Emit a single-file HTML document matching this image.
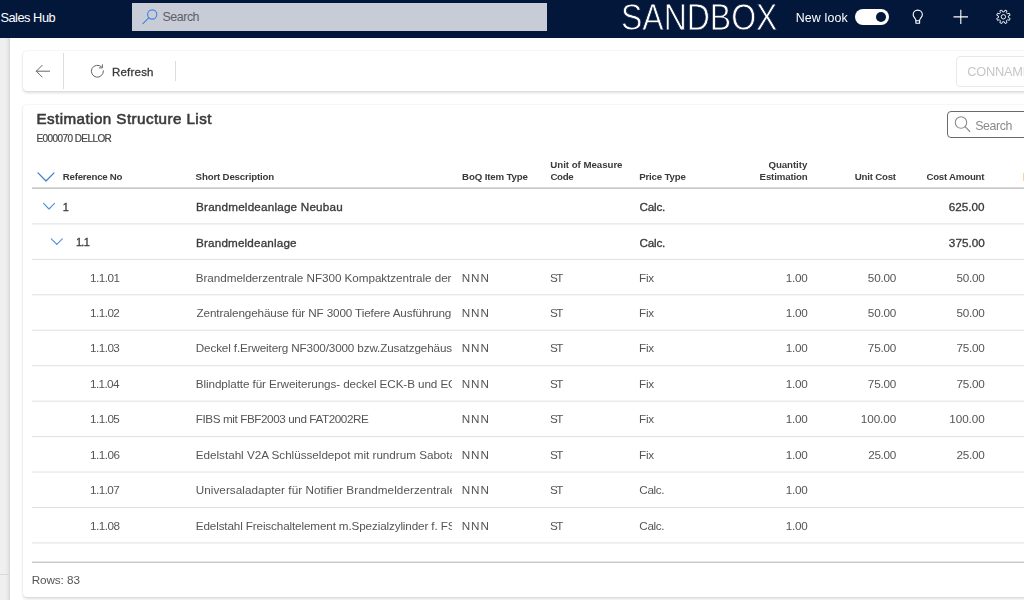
<!DOCTYPE html>
<html lang="en">
<head>
<meta charset="utf-8">
<title>Estimation Structure List</title>
<style>
html,body{margin:0;padding:0;}
body{width:1024px;height:600px;overflow:hidden;position:relative;background:#ffffff;font-family:"Liberation Sans",sans-serif;}
.abs{position:absolute;}
.t{position:absolute;white-space:nowrap;display:block;}
#page{position:absolute;left:0;top:0;width:1024px;height:600px;opacity:0.999;}
#hdr{left:-10px;top:-10px;width:1044px;height:48px;background:#03173b;}
#hsearch{left:132px;top:3px;width:415px;height:28px;background:#c8ccd6;}
#strip{left:-10px;top:38px;width:20px;height:572px;background:linear-gradient(90deg,#f0f0f0 0,#f0f0f0 10px,#eeeeee 16px,#e2e2e2 18.5px,#d6d6d6 20px);}
#stripline{left:-10px;top:574px;width:19px;height:1px;background:#d8d8d8;}
.card{background:#fff;border-radius:4px;box-shadow:0 0 1.6px rgba(0,0,0,.12),0 1.6px 3.2px rgba(0,0,0,.14);}
#tb{left:23px;top:51px;width:1020px;height:40px;}
#lc{left:23px;top:104.5px;width:1020px;height:492.5px;}
.vd{width:1px;background:#dcdcdc;}
#conn{left:956px;top:56px;width:90px;height:31px;border:1px solid #e9e9e9;border-radius:4px;box-sizing:border-box;background:#fff;}
#csearch{left:947px;top:111px;width:90px;height:27px;border:1px solid #6a6a6a;border-radius:4px;box-sizing:border-box;background:#fff;}
#tog{left:855px;top:9px;width:34px;height:16px;border-radius:8px;background:#fff;}
#knob{left:875.7px;top:12px;width:10.2px;height:10.2px;border-radius:50%;background:#03173b;}
svg{position:absolute;overflow:visible;}
</style>
</head>
<body>
<div id="page">
<div class="abs" id="hdr"></div>
<div class="abs" id="hsearch"></div>
<div class="abs" id="strip"></div>
<div class="abs" id="stripline"></div>
<div class="abs" id="tog"></div><div class="abs" id="knob"></div>

<div class="abs card" id="tb"></div>
<div class="abs vd" style="left:63px;top:53px;height:36px;"></div>
<div class="abs vd" style="left:175px;top:61px;height:20px;"></div>
<div class="abs" id="conn"></div>

<div class="abs card" id="lc"></div>
<div class="abs" id="csearch"></div>

<!-- grid lines -->
<div class="abs" style="left:1023px;top:173px;width:1px;height:8px;background:#f5d4a8;"></div>

<!-- icons -->
<svg id="i-hs" style="left:0;top:0" width="1024" height="600" viewBox="0 0 1024 600" fill="none">
  <!-- grid lines -->
  <rect x="32" y="187.6" width="992" height="1" fill="#a4a4a4"/>
  <rect x="32" y="223.40" width="992" height="1" fill="#e0e0e0"/>
  <rect x="32" y="258.85" width="992" height="1" fill="#e0e0e0"/>
  <rect x="32" y="294.30" width="992" height="1" fill="#e0e0e0"/>
  <rect x="32" y="329.75" width="992" height="1" fill="#e0e0e0"/>
  <rect x="32" y="365.20" width="992" height="1" fill="#e0e0e0"/>
  <rect x="32" y="400.65" width="992" height="1" fill="#e0e0e0"/>
  <rect x="32" y="436.10" width="992" height="1" fill="#e0e0e0"/>
  <rect x="32" y="471.55" width="992" height="1" fill="#e0e0e0"/>
  <rect x="32" y="507.00" width="992" height="1" fill="#e0e0e0"/>
  <rect x="32" y="542.45" width="992" height="1" fill="#e0e0e0"/>
  <rect x="32" y="561.7" width="992" height="1" fill="#b0b0b0"/>
  <!-- header search magnifier -->
  <g stroke="#3f82de" stroke-width="1.1" stroke-linecap="round">
    <circle cx="152.2" cy="14.5" r="4.6"/>
    <path d="M148.8 17.9 L142.9 23.6"/>
  </g>
  <!-- lightbulb -->
  <g stroke="#fff" stroke-width="1.1" stroke-linejoin="round" stroke-linecap="round">
    <path d="M915.9 23.2 h3.7 v-3 c0-1.5 2.75-3 2.75-5.45 a4.6 4.6 0 0 0 -9.2 0 c0 2.45 2.75 3.95 2.75 5.45 z"/>
    <path d="M915.9 20.7 h3.7"/>
  </g>
  <!-- plus -->
  <g stroke="#fff" stroke-width="1.1">
    <path d="M953.5 16.9 H968 M960.8 9.7 V24"/>
  </g>
  <!-- gear -->
  <g stroke="#f4f6fa" stroke-width="0.95" stroke-linejoin="round" id="gear">
    <circle cx="1003.4" cy="16.8" r="2.2"/>
    <path d="M1004.18 11.86 L1005.01 10.09 L1007.01 10.92 L1006.34 12.75 L1007.45 13.86 L1009.28 13.19 L1010.11 15.19 L1008.34 16.02 L1008.34 17.58 L1010.11 18.41 L1009.28 20.41 L1007.45 19.74 L1006.34 20.85 L1007.01 22.68 L1005.01 23.51 L1004.18 21.74 L1002.62 21.74 L1001.79 23.51 L999.79 22.68 L1000.46 20.85 L999.35 19.74 L997.52 20.41 L996.69 18.41 L998.46 17.58 L998.46 16.02 L996.69 15.19 L997.52 13.19 L999.35 13.86 L1000.46 12.75 L999.79 10.92 L1001.79 10.09 L1002.62 11.86 Z"/>
  </g>
  <!-- back arrow -->
  <g stroke="#666666" stroke-width="1" stroke-linecap="round" stroke-linejoin="round">
    <path d="M36.3 71.2 H49.6 M42.1 65.4 L36.3 71.2 L42.1 77"/>
  </g>
  <!-- refresh -->
  <g stroke="#666666" stroke-width="1" stroke-linecap="round" stroke-linejoin="round">
    <path d="M103.39 70.78 A6.00 6.00 0 1 1 101.41 66.74"/>
    <path d="M102.4 64.7 V67.9 H99.3" />
  </g>
  <!-- card search magnifier -->
  <g stroke="#8a8a8a" stroke-width="1.1" stroke-linecap="round">
    <circle cx="961" cy="122.5" r="5.7"/>
    <path d="M965.1 126.7 L969.8 131.5"/>
  </g>
  <!-- chevrons -->
  <g stroke="#3f80d0" stroke-width="1.3" stroke-linecap="round" stroke-linejoin="round">
    <path d="M38 172.9 L46 181 L54 172.9"/>
  </g>
  <g stroke="#4f8fdc" stroke-width="1.1" stroke-linecap="round" stroke-linejoin="round">
    <path d="M43.5 203.4 L49 209 L54.5 203.4"/>
    <path d="M51.3 238.8 L56.8 244.4 L62.3 238.8"/>
  </g>
</svg>

<span class="t " id="t0" style="top:8.96px;font-size:12.8px;line-height:18px;font-weight:400;color:#ffffff;letter-spacing:-0.475px;left:0.42px;">Sales Hub</span>
<span class="t " id="t1" style="top:8.60px;font-size:12.4px;line-height:17px;font-weight:400;color:#5c6068;letter-spacing:-0.460px;left:162.55px;">Search</span>
<span class="t sandbox" id="t2" style="top:-7.98px;font-size:36.6px;line-height:51px;font-weight:400;color:#ffffff;letter-spacing:0.000px;left:620.82px;transform:scaleX(0.8741);transform-origin:0 0;-webkit-text-stroke:0.8px #03173b;">SANDBOX</span>
<span class="t " id="t3" style="top:10.30px;font-size:12.4px;line-height:17px;font-weight:400;color:#ffffff;letter-spacing:0.163px;left:795.68px;">New look</span>
<span class="t " id="t4" style="top:63.52px;font-size:11.5px;line-height:16px;font-weight:400;color:#3a3a3a;letter-spacing:0.216px;-webkit-text-stroke:0.31px #3a3a3a;left:111.95px;">Refresh</span>
<span class="t " id="t5" style="top:62.96px;font-size:12.8px;line-height:18px;font-weight:400;color:#c6c6c6;letter-spacing:-0.249px;left:967.28px;">CONNAME</span>
<span class="t " id="t6" style="top:108.43px;font-size:15.2px;line-height:21px;font-weight:400;color:#3a3a3a;letter-spacing:0.433px;-webkit-text-stroke:0.60px #3a3a3a;left:36.44px;">Estimation Structure List</span>
<span class="t " id="t7" style="top:131.63px;font-size:10.0px;line-height:14px;font-weight:400;color:#444444;letter-spacing:-0.577px;-webkit-text-stroke:0.20px #444444;left:36.50px;">E000070 DELLOR</span>
<span class="t " id="t8" style="top:118.10px;font-size:12.4px;line-height:17px;font-weight:400;color:#8a8a8a;letter-spacing:-0.400px;left:975.14px;">Search</span>
<span class="t " id="t9" style="top:170.44px;font-size:9.7px;line-height:14px;font-weight:700;color:#3a3a3a;letter-spacing:-0.255px;left:62.87px;">Reference No</span>
<span class="t " id="t10" style="top:170.44px;font-size:9.7px;line-height:14px;font-weight:700;color:#3a3a3a;letter-spacing:-0.171px;left:195.62px;">Short Description</span>
<span class="t " id="t11" style="top:170.44px;font-size:9.7px;line-height:14px;font-weight:700;color:#3a3a3a;letter-spacing:-0.152px;left:462.11px;">BoQ Item Type</span>
<span class="t " id="t12" style="top:158.34px;font-size:9.7px;line-height:14px;font-weight:700;color:#3a3a3a;letter-spacing:-0.037px;left:550.36px;">Unit of Measure</span>
<span class="t " id="t13" style="top:170.44px;font-size:9.7px;line-height:14px;font-weight:700;color:#3a3a3a;letter-spacing:-0.330px;left:550.39px;">Code</span>
<span class="t " id="t14" style="top:170.44px;font-size:9.7px;line-height:14px;font-weight:700;color:#3a3a3a;letter-spacing:-0.198px;left:639.29px;">Price Type</span>
<span class="t " id="t15" style="top:158.34px;font-size:9.7px;line-height:14px;font-weight:700;color:#3a3a3a;letter-spacing:-0.063px;right:216.75px;">Quantity</span>
<span class="t " id="t16" style="top:170.44px;font-size:9.7px;line-height:14px;font-weight:700;color:#3a3a3a;letter-spacing:-0.163px;right:216.50px;">Estimation</span>
<span class="t " id="t17" style="top:170.44px;font-size:9.7px;line-height:14px;font-weight:700;color:#3a3a3a;letter-spacing:-0.207px;right:128.13px;">Unit Cost</span>
<span class="t " id="t18" style="top:170.44px;font-size:9.7px;line-height:14px;font-weight:700;color:#3a3a3a;letter-spacing:-0.238px;right:39.74px;">Cost Amount</span>
<span class="t " id="t19" style="top:199.79px;font-size:11.0px;line-height:15px;font-weight:400;color:#3a3a3a;letter-spacing:0.000px;-webkit-text-stroke:0.30px #3a3a3a;left:62.66px;">1</span>
<span class="t " id="t20" style="top:199.05px;font-size:11.7px;line-height:16px;font-weight:400;color:#3a3a3a;letter-spacing:0.196px;-webkit-text-stroke:0.32px #3a3a3a;left:196.05px;">Brandmeldeanlage Neubau</span>
<span class="t " id="t21" style="top:199.05px;font-size:11.7px;line-height:16px;font-weight:400;color:#3a3a3a;letter-spacing:-0.225px;-webkit-text-stroke:0.32px #3a3a3a;left:639.54px;">Calc.</span>
<span class="t " id="t22" style="top:199.05px;font-size:11.7px;line-height:16px;font-weight:400;color:#3a3a3a;letter-spacing:-0.011px;-webkit-text-stroke:0.32px #3a3a3a;right:39.51px;">625.00</span>
<span class="t " id="t23" style="top:235.24px;font-size:11.0px;line-height:15px;font-weight:400;color:#3a3a3a;letter-spacing:-0.750px;-webkit-text-stroke:0.30px #3a3a3a;left:75.98px;">1.1</span>
<span class="t " id="t24" style="top:234.50px;font-size:11.7px;line-height:16px;font-weight:400;color:#3a3a3a;letter-spacing:0.163px;-webkit-text-stroke:0.32px #3a3a3a;left:196.05px;">Brandmeldeanlage</span>
<span class="t " id="t25" style="top:234.50px;font-size:11.7px;line-height:16px;font-weight:400;color:#3a3a3a;letter-spacing:-0.225px;-webkit-text-stroke:0.32px #3a3a3a;left:639.54px;">Calc.</span>
<span class="t " id="t26" style="top:234.50px;font-size:11.7px;line-height:16px;font-weight:400;color:#3a3a3a;letter-spacing:0.056px;-webkit-text-stroke:0.32px #3a3a3a;right:39.09px;">375.00</span>
<span class="t " id="t27" style="top:269.55px;font-size:11.7px;line-height:16px;font-weight:400;color:#555555;letter-spacing:-0.536px;left:90.10px;">1.1.01</span>
<span class="t " id="t28" style="top:269.55px;font-size:11.7px;line-height:16px;font-weight:400;color:#555555;letter-spacing:-0.050px;left:195.79px;width:256.51px;overflow:hidden;">Brandmelderzentrale NF300 Kompaktzentrale der</span>
<span class="t " id="t29" style="top:269.55px;font-size:11.7px;line-height:16px;font-weight:400;color:#555555;letter-spacing:0.900px;left:461.79px;">NNN</span>
<span class="t " id="t30" style="top:269.55px;font-size:11.7px;line-height:16px;font-weight:400;color:#555555;letter-spacing:-1.562px;left:550.08px;">ST</span>
<span class="t " id="t31" style="top:269.55px;font-size:11.7px;line-height:16px;font-weight:400;color:#555555;letter-spacing:-0.178px;left:638.98px;">Fix</span>
<span class="t " id="t32" style="top:269.55px;font-size:11.7px;line-height:16px;font-weight:400;color:#555555;letter-spacing:-0.263px;right:216.61px;">1.00</span>
<span class="t " id="t33" style="top:269.55px;font-size:11.7px;line-height:16px;font-weight:400;color:#555555;letter-spacing:-0.223px;right:128.01px;">50.00</span>
<span class="t " id="t34" style="top:269.55px;font-size:11.7px;line-height:16px;font-weight:400;color:#555555;letter-spacing:-0.245px;right:39.60px;">50.00</span>
<span class="t " id="t35" style="top:305.00px;font-size:11.7px;line-height:16px;font-weight:400;color:#555555;letter-spacing:-0.552px;left:90.10px;">1.1.02</span>
<span class="t " id="t36" style="top:305.00px;font-size:11.7px;line-height:16px;font-weight:400;color:#555555;letter-spacing:-0.124px;left:196.50px;width:255.80px;overflow:hidden;">Zentralengehäuse für NF 3000 Tiefere Ausführung</span>
<span class="t " id="t37" style="top:305.00px;font-size:11.7px;line-height:16px;font-weight:400;color:#555555;letter-spacing:0.900px;left:461.79px;">NNN</span>
<span class="t " id="t38" style="top:305.00px;font-size:11.7px;line-height:16px;font-weight:400;color:#555555;letter-spacing:-1.562px;left:550.08px;">ST</span>
<span class="t " id="t39" style="top:305.00px;font-size:11.7px;line-height:16px;font-weight:400;color:#555555;letter-spacing:-0.178px;left:638.98px;">Fix</span>
<span class="t " id="t40" style="top:305.00px;font-size:11.7px;line-height:16px;font-weight:400;color:#555555;letter-spacing:-0.263px;right:216.61px;">1.00</span>
<span class="t " id="t41" style="top:305.00px;font-size:11.7px;line-height:16px;font-weight:400;color:#555555;letter-spacing:-0.223px;right:128.01px;">50.00</span>
<span class="t " id="t42" style="top:305.00px;font-size:11.7px;line-height:16px;font-weight:400;color:#555555;letter-spacing:-0.245px;right:39.60px;">50.00</span>
<span class="t " id="t43" style="top:340.45px;font-size:11.7px;line-height:16px;font-weight:400;color:#555555;letter-spacing:-0.545px;left:90.10px;">1.1.03</span>
<span class="t " id="t44" style="top:340.45px;font-size:11.7px;line-height:16px;font-weight:400;color:#555555;letter-spacing:-0.136px;left:195.78px;width:256.52px;overflow:hidden;">Deckel f.Erweiterg NF300/3000 bzw.Zusatzgehäus</span>
<span class="t " id="t45" style="top:340.45px;font-size:11.7px;line-height:16px;font-weight:400;color:#555555;letter-spacing:0.900px;left:461.79px;">NNN</span>
<span class="t " id="t46" style="top:340.45px;font-size:11.7px;line-height:16px;font-weight:400;color:#555555;letter-spacing:-1.562px;left:550.08px;">ST</span>
<span class="t " id="t47" style="top:340.45px;font-size:11.7px;line-height:16px;font-weight:400;color:#555555;letter-spacing:-0.178px;left:638.98px;">Fix</span>
<span class="t " id="t48" style="top:340.45px;font-size:11.7px;line-height:16px;font-weight:400;color:#555555;letter-spacing:-0.263px;right:216.61px;">1.00</span>
<span class="t " id="t49" style="top:340.45px;font-size:11.7px;line-height:16px;font-weight:400;color:#555555;letter-spacing:-0.227px;right:128.02px;">75.00</span>
<span class="t " id="t50" style="top:340.45px;font-size:11.7px;line-height:16px;font-weight:400;color:#555555;letter-spacing:-0.247px;right:39.61px;">75.00</span>
<span class="t " id="t51" style="top:375.90px;font-size:11.7px;line-height:16px;font-weight:400;color:#555555;letter-spacing:-0.632px;left:90.10px;">1.1.04</span>
<span class="t " id="t52" style="top:375.90px;font-size:11.7px;line-height:16px;font-weight:400;color:#555555;letter-spacing:-0.089px;left:195.79px;width:256.51px;overflow:hidden;">Blindplatte für Erweiterungs- deckel ECK-B und EC</span>
<span class="t " id="t53" style="top:375.90px;font-size:11.7px;line-height:16px;font-weight:400;color:#555555;letter-spacing:0.900px;left:461.79px;">NNN</span>
<span class="t " id="t54" style="top:375.90px;font-size:11.7px;line-height:16px;font-weight:400;color:#555555;letter-spacing:-1.562px;left:550.08px;">ST</span>
<span class="t " id="t55" style="top:375.90px;font-size:11.7px;line-height:16px;font-weight:400;color:#555555;letter-spacing:-0.178px;left:638.98px;">Fix</span>
<span class="t " id="t56" style="top:375.90px;font-size:11.7px;line-height:16px;font-weight:400;color:#555555;letter-spacing:-0.263px;right:216.61px;">1.00</span>
<span class="t " id="t57" style="top:375.90px;font-size:11.7px;line-height:16px;font-weight:400;color:#555555;letter-spacing:-0.227px;right:128.02px;">75.00</span>
<span class="t " id="t58" style="top:375.90px;font-size:11.7px;line-height:16px;font-weight:400;color:#555555;letter-spacing:-0.247px;right:39.61px;">75.00</span>
<span class="t " id="t59" style="top:411.35px;font-size:11.7px;line-height:16px;font-weight:400;color:#555555;letter-spacing:-0.549px;left:90.11px;">1.1.05</span>
<span class="t " id="t60" style="top:411.35px;font-size:11.7px;line-height:16px;font-weight:400;color:#555555;letter-spacing:-0.408px;left:195.79px;width:256.51px;overflow:hidden;">FIBS mit FBF2003 und FAT2002RE</span>
<span class="t " id="t61" style="top:411.35px;font-size:11.7px;line-height:16px;font-weight:400;color:#555555;letter-spacing:0.900px;left:461.79px;">NNN</span>
<span class="t " id="t62" style="top:411.35px;font-size:11.7px;line-height:16px;font-weight:400;color:#555555;letter-spacing:-1.562px;left:550.08px;">ST</span>
<span class="t " id="t63" style="top:411.35px;font-size:11.7px;line-height:16px;font-weight:400;color:#555555;letter-spacing:-0.178px;left:638.98px;">Fix</span>
<span class="t " id="t64" style="top:411.35px;font-size:11.7px;line-height:16px;font-weight:400;color:#555555;letter-spacing:-0.263px;right:216.61px;">1.00</span>
<span class="t " id="t65" style="top:411.35px;font-size:11.7px;line-height:16px;font-weight:400;color:#555555;letter-spacing:-0.075px;right:127.86px;">100.00</span>
<span class="t " id="t66" style="top:411.35px;font-size:11.7px;line-height:16px;font-weight:400;color:#555555;letter-spacing:-0.083px;right:39.44px;">100.00</span>
<span class="t " id="t67" style="top:446.80px;font-size:11.7px;line-height:16px;font-weight:400;color:#555555;letter-spacing:-0.540px;left:90.10px;">1.1.06</span>
<span class="t " id="t68" style="top:446.80px;font-size:11.7px;line-height:16px;font-weight:400;color:#555555;letter-spacing:-0.019px;left:195.79px;width:256.51px;overflow:hidden;">Edelstahl V2A Schlüsseldepot mit rundrum Sabota</span>
<span class="t " id="t69" style="top:446.80px;font-size:11.7px;line-height:16px;font-weight:400;color:#555555;letter-spacing:0.900px;left:461.79px;">NNN</span>
<span class="t " id="t70" style="top:446.80px;font-size:11.7px;line-height:16px;font-weight:400;color:#555555;letter-spacing:-1.562px;left:550.08px;">ST</span>
<span class="t " id="t71" style="top:446.80px;font-size:11.7px;line-height:16px;font-weight:400;color:#555555;letter-spacing:-0.178px;left:638.98px;">Fix</span>
<span class="t " id="t72" style="top:446.80px;font-size:11.7px;line-height:16px;font-weight:400;color:#555555;letter-spacing:-0.263px;right:216.61px;">1.00</span>
<span class="t " id="t73" style="top:446.80px;font-size:11.7px;line-height:16px;font-weight:400;color:#555555;letter-spacing:-0.307px;right:128.09px;">25.00</span>
<span class="t " id="t74" style="top:446.80px;font-size:11.7px;line-height:16px;font-weight:400;color:#555555;letter-spacing:-0.266px;right:39.63px;">25.00</span>
<span class="t " id="t75" style="top:482.25px;font-size:11.7px;line-height:16px;font-weight:400;color:#555555;letter-spacing:-0.570px;left:90.11px;">1.1.07</span>
<span class="t " id="t76" style="top:482.25px;font-size:11.7px;line-height:16px;font-weight:400;color:#555555;letter-spacing:0.062px;left:195.71px;width:256.59px;overflow:hidden;">Universaladapter für Notifier Brandmelderzentrale</span>
<span class="t " id="t77" style="top:482.25px;font-size:11.7px;line-height:16px;font-weight:400;color:#555555;letter-spacing:0.900px;left:461.79px;">NNN</span>
<span class="t " id="t78" style="top:482.25px;font-size:11.7px;line-height:16px;font-weight:400;color:#555555;letter-spacing:-1.562px;left:550.08px;">ST</span>
<span class="t " id="t79" style="top:482.25px;font-size:11.7px;line-height:16px;font-weight:400;color:#555555;letter-spacing:-0.373px;left:639.37px;">Calc.</span>
<span class="t " id="t80" style="top:482.25px;font-size:11.7px;line-height:16px;font-weight:400;color:#555555;letter-spacing:-0.263px;right:216.61px;">1.00</span>
<span class="t " id="t81" style="top:517.70px;font-size:11.7px;line-height:16px;font-weight:400;color:#555555;letter-spacing:-0.527px;left:90.11px;">1.1.08</span>
<span class="t " id="t82" style="top:517.70px;font-size:11.7px;line-height:16px;font-weight:400;color:#555555;letter-spacing:-0.133px;left:195.79px;width:256.51px;overflow:hidden;">Edelstahl Freischaltelement m.Spezialzylinder f. FS</span>
<span class="t " id="t83" style="top:517.70px;font-size:11.7px;line-height:16px;font-weight:400;color:#555555;letter-spacing:0.900px;left:461.79px;">NNN</span>
<span class="t " id="t84" style="top:517.70px;font-size:11.7px;line-height:16px;font-weight:400;color:#555555;letter-spacing:-1.562px;left:550.08px;">ST</span>
<span class="t " id="t85" style="top:517.70px;font-size:11.7px;line-height:16px;font-weight:400;color:#555555;letter-spacing:-0.373px;left:639.37px;">Calc.</span>
<span class="t " id="t86" style="top:517.70px;font-size:11.7px;line-height:16px;font-weight:400;color:#555555;letter-spacing:-0.263px;right:216.61px;">1.00</span>
<span class="t " id="t87" style="top:572.15px;font-size:11.7px;line-height:16px;font-weight:400;color:#555555;letter-spacing:-0.072px;left:31.70px;">Rows: 83</span>
</div>
</body>
</html>
